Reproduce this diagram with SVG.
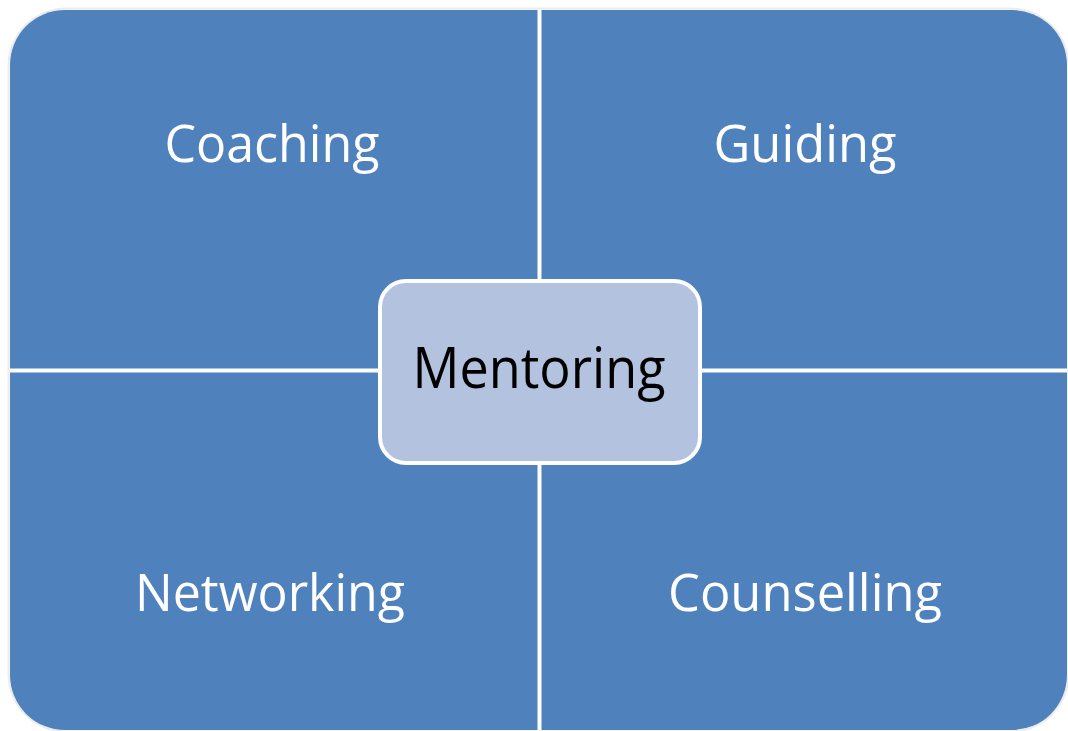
<svg xmlns="http://www.w3.org/2000/svg" width="1068" height="731" viewBox="0 0 1068 731">
  <style>
    .quad { fill: #4F81BD; }
    .label { font-family: "Open Sans", "Noto Sans", "Liberation Sans", sans-serif; font-size: 51px; fill: #FFFFFF; text-anchor: middle; }
    .core { fill: #B3C2DE; stroke: #FFFFFF; stroke-width: 4; }
    .core-label { font-family: "Open Sans", "Noto Sans", "Liberation Sans", sans-serif; font-size: 56px; fill: #000000; text-anchor: middle; }
  </style>
  <rect width="1068" height="731" fill="#FFFFFF"/>
  <!-- soft outline around the whole matrix -->
  <rect x="8.5" y="8.5" width="1060" height="723" rx="58" fill="none" stroke="#ECECEC" stroke-width="2"/>

  <g id="coaching">
    <path class="quad" d="M10 65 A55 55 0 0 1 65 10 H537.5 V368.5 H10 Z"/>
    <text class="label" x="272" y="162" textLength="215" lengthAdjust="spacingAndGlyphs">Coaching</text>
  </g>
  <g id="guiding">
    <path class="quad" d="M541.5 10 H1012 A55 55 0 0 1 1067 65 V368.5 H541.5 Z"/>
    <text class="label" x="805" y="162" textLength="183" lengthAdjust="spacingAndGlyphs">Guiding</text>
  </g>
  <g id="networking">
    <path class="quad" d="M10 372.5 H537.5 V730 H65 A55 55 0 0 1 10 675 Z"/>
    <text class="label" x="270" y="611" textLength="270" lengthAdjust="spacingAndGlyphs">Networking</text>
  </g>
  <g id="counselling">
    <path class="quad" d="M541.5 372.5 H1067 V675 A55 55 0 0 1 1012 730 H541.5 Z"/>
    <text class="label" x="805" y="611" textLength="274" lengthAdjust="spacingAndGlyphs">Counselling</text>
  </g>
  <g id="mentoring">
    <rect class="core" x="380" y="281" width="320" height="182" rx="26"/>
    <text class="core-label" x="539" y="388" textLength="253" lengthAdjust="spacingAndGlyphs">Mentoring</text>
  </g>
</svg>
